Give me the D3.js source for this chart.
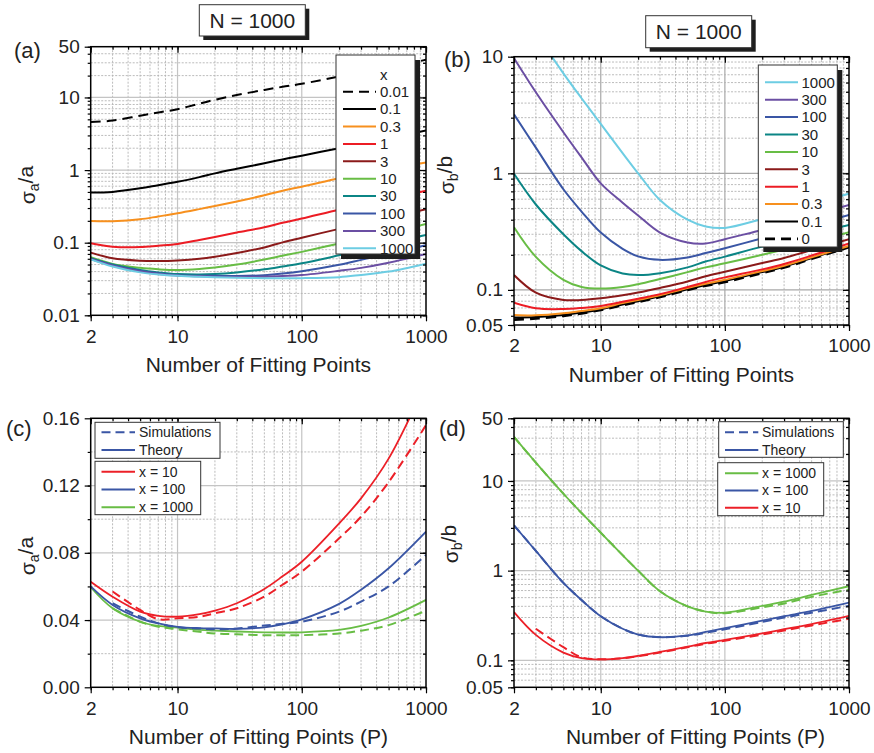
<!DOCTYPE html>
<html>
<head>
<meta charset="utf-8">
<title>Relative errors vs number of fitting points, N = 1000</title>
<script src="https://d3js.org/d3.v7.min.js"></script>
<style>
  body { margin: 0; background: #fff; }
  text { font-family: "Liberation Sans", Arial, Helvetica, sans-serif; fill: #222; }
</style>
</head>
<body>
<div id="chart"></div>
<script>
// ---- data ----
// number of fitting points P (x of every curve)
const P = [2, 3, 5, 7, 10, 15, 20, 30, 50, 70, 100, 200, 300, 500, 1000];

// (a) sigma_a / a, one series per x
const aLabels = ["0.01", "0.1", "0.3", "1", "3", "10", "30", "100", "300", "1000"];
const a001  = [4.6, 4.8, 5.6, 6.2, 6.9, 8.2, 9.3, 10.8, 12.7, 14.0, 15.4, 19.5, 22.5, 26, 33];
const a01   = [0.49, 0.50, 0.56, 0.62, 0.69, 0.80, 0.90, 1.04, 1.24, 1.40, 1.58, 2.0, 2.3, 2.75, 3.5];
const a03   = [0.199, 0.198, 0.21, 0.23, 0.254, 0.29, 0.32, 0.37, 0.45, 0.52, 0.59, 0.77, 0.88, 1.03, 1.27];
const a1    = [0.098, 0.088, 0.087, 0.091, 0.096, 0.109, 0.12, 0.138, 0.163, 0.188, 0.215, 0.285, 0.33, 0.40, 0.52];
const a3    = [0.073, 0.061, 0.0565, 0.056, 0.057, 0.060, 0.064, 0.072, 0.086, 0.101, 0.117, 0.155, 0.18, 0.22, 0.288];
const a10   = [0.063, 0.051, 0.045, 0.043, 0.042, 0.0435, 0.0456, 0.050, 0.0585, 0.066, 0.0747, 0.0975, 0.1124, 0.136, 0.181];
const a30   = [0.061, 0.050, 0.042, 0.039, 0.037, 0.0365, 0.037, 0.039, 0.043, 0.047, 0.052, 0.067, 0.078, 0.098, 0.128];
const a100  = [0.060, 0.049, 0.041, 0.038, 0.0355, 0.0350, 0.035, 0.0347, 0.0357, 0.0375, 0.0404, 0.0496, 0.058, 0.0708, 0.0926];
const a300  = [0.0595, 0.048, 0.040, 0.037, 0.0352, 0.0344, 0.0340, 0.0337, 0.0340, 0.0348, 0.0358, 0.041, 0.045, 0.053, 0.070];
const a1000 = [0.059, 0.047, 0.039, 0.0365, 0.035, 0.034, 0.0335, 0.033, 0.0325, 0.0325, 0.0325, 0.0335, 0.036, 0.040, 0.0515];
const aSeries = [a001, a01, a03, a1, a3, a10, a30, a100, a300, a1000];

// (b) sigma_b / b, one series per x
const bLabels = ["0", "0.1", "0.3", "1", "3", "10", "30", "100", "300", "1000"];
const b0    = [0.0555, 0.057, 0.060, 0.063, 0.0675, 0.074, 0.079, 0.087, 0.100, 0.109, 0.117, 0.140, 0.156, 0.185, 0.233];
const b01   = [0.058, 0.0585, 0.061, 0.064, 0.068, 0.075, 0.080, 0.088, 0.101, 0.110, 0.119, 0.142, 0.158, 0.188, 0.236];
const b03   = [0.061, 0.0605, 0.063, 0.066, 0.0695, 0.077, 0.082, 0.090, 0.104, 0.113, 0.122, 0.145, 0.161, 0.19, 0.238];
const b1    = [0.0776, 0.0695, 0.0685, 0.070, 0.0728, 0.079, 0.084, 0.092, 0.106, 0.117, 0.128, 0.150, 0.167, 0.197, 0.25];
const b3    = [0.134, 0.0946, 0.082, 0.082, 0.0847, 0.090, 0.095, 0.104, 0.118, 0.131, 0.143, 0.170, 0.188, 0.22, 0.272];
const b10   = [0.345, 0.192, 0.122, 0.106, 0.1026, 0.106, 0.112, 0.124, 0.142, 0.156, 0.169, 0.200, 0.222, 0.254, 0.313];
const b30   = [0.99, 0.54, 0.30, 0.215, 0.162, 0.138, 0.134, 0.139, 0.156, 0.175, 0.193, 0.235, 0.26, 0.30, 0.36];
const b100  = [3.2, 1.66, 0.73, 0.47, 0.31, 0.225, 0.194, 0.181, 0.19, 0.207, 0.228, 0.277, 0.31, 0.355, 0.44];
const b300  = [9.7, 4.95, 2.25, 1.37, 0.82, 0.56, 0.435, 0.31, 0.255, 0.25, 0.272, 0.327, 0.36, 0.43, 0.535];
const b1000 = [31, 16.0, 7.2, 4.4, 2.65, 1.49, 1.0, 0.59, 0.40, 0.35, 0.34, 0.405, 0.45, 0.535, 0.67];
const bSeries = [b0, b01, b03, b1, b3, b10, b30, b100, b300, b1000];

// (c) sigma_a / a, theory vs simulations (null = no simulation point)
const cTheory10   = [0.0628, 0.0539, 0.045, 0.0425, 0.042, 0.0435, 0.0456, 0.050, 0.0585, 0.066, 0.0747, 0.0975, 0.1124, 0.136, 0.181];
const cTheory100  = [0.060, 0.049, 0.041, 0.038, 0.036, 0.0352, 0.035, 0.0347, 0.0357, 0.0375, 0.0404, 0.0496, 0.058, 0.0708, 0.0926];
const cTheory1000 = [0.0595, 0.047, 0.039, 0.0365, 0.0355, 0.0342, 0.0337, 0.0332, 0.0327, 0.0326, 0.0327, 0.0341, 0.0365, 0.0415, 0.052];
const cSim10      = [null, 0.057, 0.046, 0.0405, 0.041, 0.042, 0.044, 0.047, 0.054, 0.061, 0.0688, 0.0886, 0.1015, 0.122, 0.156];
const cSim100     = [null, 0.050, 0.042, 0.038, 0.0357, 0.035, 0.0345, 0.035, 0.0367, 0.0378, 0.039, 0.045, 0.051, 0.060, 0.0787];
const cSim1000    = [null, 0.047, 0.039, 0.036, 0.0345, 0.0330, 0.032, 0.0315, 0.031, 0.031, 0.031, 0.032, 0.0337, 0.037, 0.0456];

// (d) sigma_b / b, theory vs simulations
const dTheory10   = b10;
const dTheory100  = b100;
const dTheory1000 = b1000;
const dSim10      = [null, 0.225, 0.140, 0.108, 0.1026, 0.105, 0.111, 0.122, 0.14, 0.153, 0.165, 0.194, 0.215, 0.245, 0.29];
const dSim100     = [3.2, 1.66, 0.73, 0.47, 0.31, 0.225, 0.194, 0.181, 0.188, 0.203, 0.222, 0.268, 0.30, 0.34, 0.405];
const dSim1000    = [31, 16.0, 7.2, 4.4, 2.65, 1.49, 1.0, 0.59, 0.40, 0.35, 0.335, 0.39, 0.43, 0.51, 0.615];

// ---- styles ----
const xColor = {
  "0.01": "#000", "0": "#000", "0.1": "#000", "0.3": "#f7901e", "1": "#ec1c24",
  "3": "#8b1a1a", "10": "#68bd45", "30": "#0b8585", "100": "#3a56a5",
  "300": "#6b4fa3", "1000": "#6dcde3"
};
const cmpColor = { "10": "#ec2028", "100": "#3a56a5", "1000": "#68bd45" };

const W = 874, H = 753;
const svg = d3.select("#chart").append("svg").attr("width", W).attr("height", H);

function logMinors(lo, hi) {
  const out = [];
  for (let e = Math.floor(Math.log10(lo)) - 1; e <= Math.ceil(Math.log10(hi)); e++) {
    for (let k = 1; k < 10; k++) {
      const v = +(k * Math.pow(10, e)).toPrecision(6);
      if (v >= lo * 0.9999 && v <= hi * 1.0001) out.push({ v: v, major: k === 1 });
    }
  }
  return out;
}

// draws frame, grid, ticks and returns scales
function makePanel(o) {
  const g = svg.append("g");
  const x = d3.scaleLog().domain([2, 1000]).range([o.x0, o.x1]);
  const y = (o.ylog ? d3.scaleLog() : d3.scaleLinear()).domain(o.ydom).range([o.y1, o.y0]);

  // grid
  const gx = logMinors(2, 1000).filter(d => d.v > 2 && d.v < 1000);
  const gy = o.ylog ? logMinors(o.ydom[0], o.ydom[1]).filter(d => d.v > o.ydom[0] && d.v < o.ydom[1])
                    : o.ygrid.map(v => ({ v: v, major: o.ymajor.includes(v) }));
  const grid = g.append("g");
  grid.selectAll("line.gx").data(gx).join("line")
    .attr("x1", d => x(d.v)).attr("x2", d => x(d.v)).attr("y1", o.y0).attr("y2", o.y1)
    .attr("stroke", d => d.major ? o.majorGrid : "#b4b4b4")
    .attr("stroke-width", d => d.major ? 1.2 : 0.9)
    .attr("stroke-dasharray", d => d.major ? null : "2,1.5");
  grid.selectAll("line.gy").data(gy).join("line")
    .attr("y1", d => y(d.v)).attr("y2", d => y(d.v)).attr("x1", o.x0).attr("x2", o.x1)
    .attr("stroke", d => d.major ? o.majorGrid : "#b4b4b4")
    .attr("stroke-width", d => d.major ? 1.2 : 0.9)
    .attr("stroke-dasharray", d => d.major ? null : "2,1.5");

  // clip for curves
  const id = "clip" + o.name;
  svg.append("clipPath").attr("id", id).append("rect")
    .attr("x", o.x0).attr("y", o.y0).attr("width", o.x1 - o.x0).attr("height", o.y1 - o.y0);
  const plot = g.append("g").attr("clip-path", `url(#${id})`);

  const axes = g.append("g");
  const xMaj = [2, 10, 100, 1000];
  const xMin = logMinors(2, 1000).map(d => d.v);
  const yMin = o.ylog ? logMinors(o.ydom[0], o.ydom[1]).map(d => d.v) : o.ygrid;

  function style(sel) {
    sel.select(".domain").remove();
    sel.selectAll("line").attr("stroke", "#000").attr("stroke-width", 1.2);
    sel.selectAll("text").style("font-size", "19px").attr("fill", "#222");
  }
  axes.append("g").attr("transform", `translate(0,${o.y1})`)
    .call(d3.axisBottom(x).tickValues(xMin).tickFormat("").tickSize(3)).call(style);
  axes.append("g").attr("transform", `translate(0,${o.y1})`)
    .call(d3.axisBottom(x).tickValues(xMaj).tickFormat(d => String(d)).tickSize(6).tickPadding(8)).call(style);
  axes.append("g").attr("transform", `translate(0,${o.y0})`)
    .call(d3.axisTop(x).tickValues(xMin).tickFormat("").tickSize(-3)).call(style);
  axes.append("g").attr("transform", `translate(0,${o.y0})`)
    .call(d3.axisTop(x).tickValues(xMaj).tickFormat("").tickSize(-6)).call(style);
  axes.append("g").attr("transform", `translate(${o.x0},0)`)
    .call(d3.axisLeft(y).tickValues(yMin).tickFormat("").tickSize(3)).call(style);
  axes.append("g").attr("transform", `translate(${o.x0},0)`)
    .call(d3.axisLeft(y).tickValues(o.yticks).tickFormat(o.yfmt).tickSize(6).tickPadding(5)).call(style);
  axes.append("g").attr("transform", `translate(${o.x1},0)`)
    .call(d3.axisRight(y).tickValues(yMin).tickFormat("").tickSize(-3)).call(style);
  axes.append("g").attr("transform", `translate(${o.x1},0)`)
    .call(d3.axisRight(y).tickValues(o.yticks).tickFormat("").tickSize(-6)).call(style);

  axes.append("rect").attr("x", o.x0).attr("y", o.y0)
    .attr("width", o.x1 - o.x0).attr("height", o.y1 - o.y0)
    .attr("fill", "none").attr("stroke", "#000").attr("stroke-width", 1.5);

  // titles
  g.append("text").attr("x", (o.x0 + o.x1) / 2 + o.xtDx).attr("y", o.y1 + 57)
    .attr("text-anchor", "middle").style("font-size", "21px").text(o.xtitle);
  const yt = g.append("text").attr("transform", `translate(${o.ytX},${o.ytY}) rotate(-90)`)
    .attr("text-anchor", "middle").style("font-size", "21px");
  yt.append("tspan").text("σ");
  yt.append("tspan").attr("dy", "0.32em").style("font-size", "14px").text(o.ysub);
  yt.append("tspan").attr("dy", "-0.32em").text("/" + o.ysub);
  g.append("text").attr("x", o.lblX).attr("y", o.lblY).style("font-size", "22px").text(o.label);

  return { x: x, y: y, plot: plot, top: g };
}

function lineGen(px) {
  return d3.line()
    .defined(d => d[1] != null)
    .x(d => px.x(d[0])).y(d => px.y(d[1]))
    .curve(d3.curveCatmullRom.alpha(0.5));
}
function drawCurve(px, vals, color, dash, width) {
  px.plot.append("path")
    .datum(P.map((p, i) => [p, vals[i]]))
    .attr("d", lineGen(px))
    .attr("fill", "none").attr("stroke", color)
    .attr("stroke-width", width || 2)
    .attr("stroke-dasharray", dash || null);
}

function titleBox(cx, y, w, h) {
  svg.append("rect").attr("x", cx - w / 2 + 4).attr("y", y + 4).attr("width", w).attr("height", h).attr("fill", "#1e1e1e");
  svg.append("rect").attr("x", cx - w / 2).attr("y", y).attr("width", w).attr("height", h)
    .attr("fill", "#fff").attr("stroke", "#333").attr("stroke-width", 1);
  svg.append("text").attr("x", cx).attr("y", y + h / 2).attr("dy", "0.36em")
    .attr("text-anchor", "middle").style("font-size", "21px").text("N = 1000");
}

// legend box: items = [{label, color, dash}]
function legend(o, items) {
  const g = svg.append("g");
  if (o.shadow) g.append("rect").attr("x", o.x + 5).attr("y", o.y + 5).attr("width", o.w).attr("height", o.h).attr("fill", "#1e1e1e");
  g.append("rect").attr("x", o.x).attr("y", o.y).attr("width", o.w).attr("height", o.h)
    .attr("fill", "#fff").attr("stroke", "#333").attr("stroke-width", 1);
  if (o.title) g.append("text").attr("x", o.textX).attr("y", o.row0 - o.step).attr("dy", "0.35em")
    .style("font-size", o.fs + "px").text(o.title);
  const row = g.selectAll("g.row").data(items).join("g")
    .attr("transform", (d, i) => `translate(0,${o.row0 + i * o.step})`);
  row.append("line").attr("x1", o.lx0).attr("x2", o.lx1)
    .attr("stroke", d => d.color).attr("stroke-width", d => d.width || 2)
    .attr("stroke-dasharray", d => d.dash || null);
  row.append("text").attr("x", o.textX).attr("dy", "0.35em")
    .style("font-size", o.fs + "px").text(d => d.label);
}

// ---- panel (a) ----
const pa = makePanel({
  name: "a", x0: 90.7, x1: 426, y0: 46.7, y1: 315.3, ylog: true, ydom: [0.01, 50],
  yticks: [0.01, 0.1, 1, 10, 50], yfmt: d => String(d), majorGrid: "#c4c4c4",
  xtitle: "Number of Fitting Points", xtDx: 0, ysub: "a", ytX: 35, ytY: 185,
  label: "(a)", lblX: 14, lblY: 58
});
aSeries.forEach((vals, i) => {
  const lab = aLabels[i];
  drawCurve(pa, vals, xColor[lab], lab === "0.01" ? "10,6" : null, 2);
});
titleBox(252.3, 4.7, 106, 31.3);
legend({ x: 336, y: 55, w: 79, h: 199, shadow: true, title: "x", row0: 91.7, step: 17.4,
  lx0: 343, lx1: 376, textX: 380, fs: 15 },
  aLabels.map(l => ({ label: l, color: xColor[l], dash: l === "0.01" ? "10,6" : null })));

// ---- panel (b) ----
const pb = makePanel({
  name: "b", x0: 514, x1: 849, y0: 56.7, y1: 325, ylog: true, ydom: [0.05, 10],
  yticks: [0.05, 0.1, 1, 10], yfmt: d => String(d), majorGrid: "#a8a8a8",
  xtitle: "Number of Fitting Points", xtDx: 0, ysub: "b", ytX: 454, ytY: 175,
  label: "(b)", lblX: 444, lblY: 67
});
bSeries.forEach((vals, i) => {
  const lab = bLabels[i];
  drawCurve(pb, vals, xColor[lab], lab === "0" ? "10,6" : null, lab === "0" ? 2.8 : 2);
});
titleBox(698.7, 15.7, 106, 32);
legend({ x: 758.3, y: 65, w: 79, h: 182, shadow: true, row0: 82.3, step: 17.4,
  lx0: 765, lx1: 798, textX: 801.5, fs: 15 },
  bLabels.slice().reverse().map(l => ({ label: l, color: xColor[l], dash: l === "0" ? "10,6" : null, width: l === "0" ? 2.6 : 2 })));

// ---- panel (c) ----
const pc = makePanel({
  name: "c", x0: 90.7, x1: 426, y0: 418.3, y1: 687.3, ylog: false, ydom: [0, 0.16],
  yticks: [0, 0.04, 0.08, 0.12, 0.16], yfmt: d3.format(".2f"),
  ygrid: [0.02, 0.04, 0.06, 0.08, 0.10, 0.12, 0.14], ymajor: [0.04, 0.08, 0.12], majorGrid: "#c4c4c4",
  xtitle: "Number of Fitting Points (P)", xtDx: 0, ysub: "a", ytX: 35, ytY: 556,
  label: "(c)", lblX: 6, lblY: 436
});
[[cTheory1000, cSim1000, "1000"], [cTheory100, cSim100, "100"], [cTheory10, cSim10, "10"]].forEach(s => {
  drawCurve(pc, s[1], cmpColor[s[2]], "9,5", 2);
  drawCurve(pc, s[0], cmpColor[s[2]], null, 1.8);
});
legend({ x: 95, y: 422.3, w: 125, h: 36, row0: 432.3, step: 17.7, lx0: 101.5, lx1: 135, textX: 139, fs: 14 },
  [{ label: "Simulations", color: cmpColor["100"], dash: "9,5" }, { label: "Theory", color: cmpColor["100"] }]);
legend({ x: 95, y: 461.3, w: 105.7, h: 53.4, row0: 471.7, step: 17.8, lx0: 101.5, lx1: 135, textX: 139, fs: 14 },
  ["10", "100", "1000"].map(l => ({ label: "x = " + l, color: cmpColor[l] })));

// ---- panel (d) ----
const pd = makePanel({
  name: "d", x0: 514, x1: 849, y0: 418.3, y1: 687.3, ylog: true, ydom: [0.05, 50],
  yticks: [0.05, 0.1, 1, 10, 50], yfmt: d => String(d), majorGrid: "#c4c4c4",
  xtitle: "Number of Fitting Points (P)", xtDx: 14, ysub: "b", ytX: 458, ytY: 544,
  label: "(d)", lblX: 439, lblY: 436
});
[[dTheory10, dSim10, "10"], [dTheory100, dSim100, "100"], [dTheory1000, dSim1000, "1000"]].forEach(s => {
  drawCurve(pd, s[1], cmpColor[s[2]], "9,5", 2);
  drawCurve(pd, s[0], cmpColor[s[2]], null, 1.8);
});
legend({ x: 718.7, y: 421.7, w: 124.6, h: 35.6, row0: 432.3, step: 17.7, lx0: 725, lx1: 758.3, textX: 762, fs: 14 },
  [{ label: "Simulations", color: cmpColor["100"], dash: "9,5" }, { label: "Theory", color: cmpColor["100"] }]);
legend({ x: 717.7, y: 462.7, w: 106, h: 53, row0: 473.3, step: 17.2, lx0: 725, lx1: 758.3, textX: 762, fs: 14 },
  ["1000", "100", "10"].map(l => ({ label: "x = " + l, color: cmpColor[l] })));
</script>
</body>
</html>
